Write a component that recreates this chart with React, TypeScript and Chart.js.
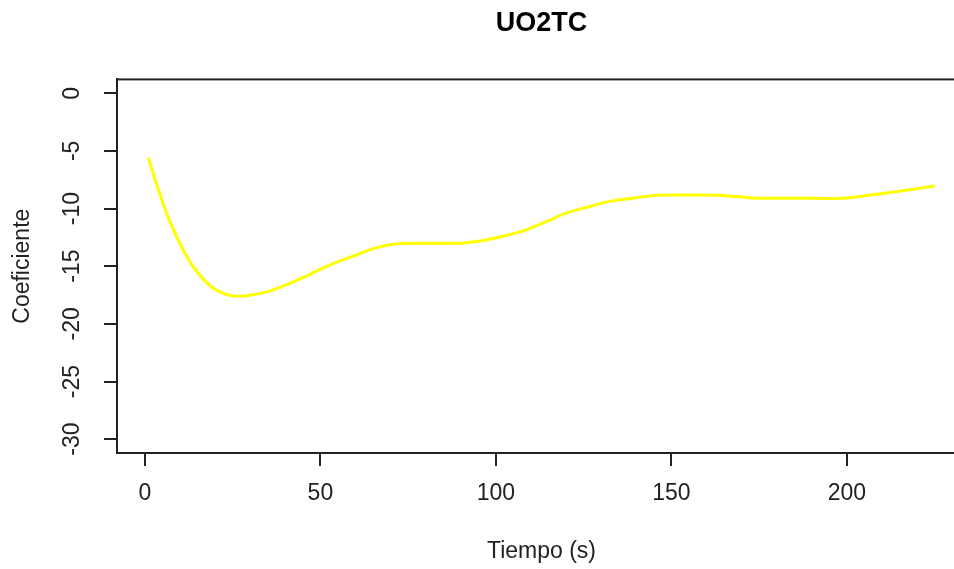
import React, { useEffect, useRef } from "react";
import { Chart, registerables } from "chart.js";

Chart.register(...registerables);

// Time (s) and coefficient values of the UO2TC curve
const tiempo = [1, 2.5, 4, 5.5, 7, 9.5, 12, 14.5, 17.5, 20.5, 24, 27, 30, 35, 40, 45, 49, 55, 60, 63, 67, 72, 80, 90, 96, 102, 109, 115, 120, 127, 132, 139, 146, 155, 163, 168, 175, 185, 199, 205, 215, 225];
const coeficiente = [-5.6, -7.1, -8.5, -9.85, -11.05, -12.75, -14.2, -15.35, -16.4, -17.1, -17.52, -17.6, -17.52, -17.2, -16.65, -16.0, -15.4, -14.6, -14.05, -13.7, -13.32, -13.05, -13.0, -13.0, -12.8, -12.4, -11.8, -11.05, -10.4, -9.8, -9.4, -9.1, -8.85, -8.83, -8.85, -8.95, -9.1, -9.1, -9.1, -8.9, -8.5, -8.05];

const xTicks = [0, 50, 100, 150, 200];
const yTicks = [0, -5, -10, -15, -20, -25, -30];

const X_MIN = -7.96;
const X_MAX = 233.96;
const Y_MIN = -31.2;
const Y_MAX = 1.2;

const FONT = "'Liberation Sans', Arial, sans-serif";
const INK = "#222";

const CANVAS_W = 980;
const CANVAS_H = 569;

// Draws the closed frame around the plotting region
const frame = {
  id: "frame",
  afterDraw(chart: any) {
    const { ctx, chartArea } = chart;
    ctx.save();
    ctx.strokeStyle = INK;
    ctx.lineWidth = 2;
    ctx.strokeRect(chartArea.left, chartArea.top, chartArea.right - chartArea.left, chartArea.bottom - chartArea.top);
    ctx.restore();
  },
};

export default function App() {
  const ref = useRef<HTMLCanvasElement | null>(null);

  useEffect(() => {
    if (!ref.current) return;
    const chart = new Chart(ref.current, {
      type: "scatter",
      data: {
        datasets: [
          {
            data: tiempo.map((t, i) => ({ x: t, y: coeficiente[i] })),
            showLine: true,
            borderColor: "#FFFF00",
            borderWidth: 3,
            pointRadius: 0,
            tension: 0.4,
            fill: false,
          },
        ],
      },
      options: {
        responsive: false,
        animation: false,
        layout: { padding: { left: 0, right: 14, top: 0, bottom: 0 } },
        plugins: {
          legend: { display: false },
          tooltip: { enabled: false },
          title: {
            display: true,
            text: "UO2TC",
            color: "#000",
            fullSize: false,
            font: { family: FONT, size: 27, weight: "bold" },
            padding: { top: 7, bottom: 40 },
          },
        },
        scales: {
          x: {
            type: "linear",
            position: "bottom",
            min: X_MIN,
            max: X_MAX,
            afterBuildTicks: (s: any) => {
              s.ticks = xTicks.map((v) => ({ value: v }));
            },
            afterFit: (s: any) => {
              s.height = CANVAS_H - 453;
            },
            grid: { drawOnChartArea: false, drawTicks: true, tickLength: 13, color: INK, lineWidth: 2 },
            border: { display: true, color: INK, width: 2 },
            ticks: { color: INK, font: { family: FONT, size: 23 }, padding: 14, maxRotation: 0 },
            title: {
              display: true,
              text: "Tiempo (s)",
              color: INK,
              font: { family: FONT, size: 23 },
              padding: { top: 0, bottom: 4 },
            },
          },
          y: {
            type: "linear",
            min: Y_MIN,
            max: Y_MAX,
            afterBuildTicks: (s: any) => {
              s.ticks = yTicks.map((v) => ({ value: v }));
            },
            afterFit: (s: any) => {
              s.width = 117;
            },
            grid: { drawOnChartArea: false, drawTicks: true, tickLength: 13, color: INK, lineWidth: 2 },
            border: { display: true, color: INK, width: 2 },
            ticks: {
              color: INK,
              font: { family: FONT, size: 23 },
              minRotation: 90,
              maxRotation: 90,
              crossAlign: "center",
              padding: 15,
            },
            title: {
              display: true,
              text: "Coeficiente",
              color: INK,
              font: { family: FONT, size: 23 },
              padding: { top: 9, bottom: 0 },
            },
          },
        },
      },
      plugins: [frame],
    } as any);
    return () => chart.destroy();
  }, []);

  return (
    <div
      style={{
        position: "fixed",
        left: 0,
        top: 0,
        width: 954,
        height: 569,
        overflow: "hidden",
        background: "#fff",
      }}
    >
      <canvas ref={ref} width={CANVAS_W} height={CANVAS_H} style={{ display: "block" }} />
    </div>
  );
}
